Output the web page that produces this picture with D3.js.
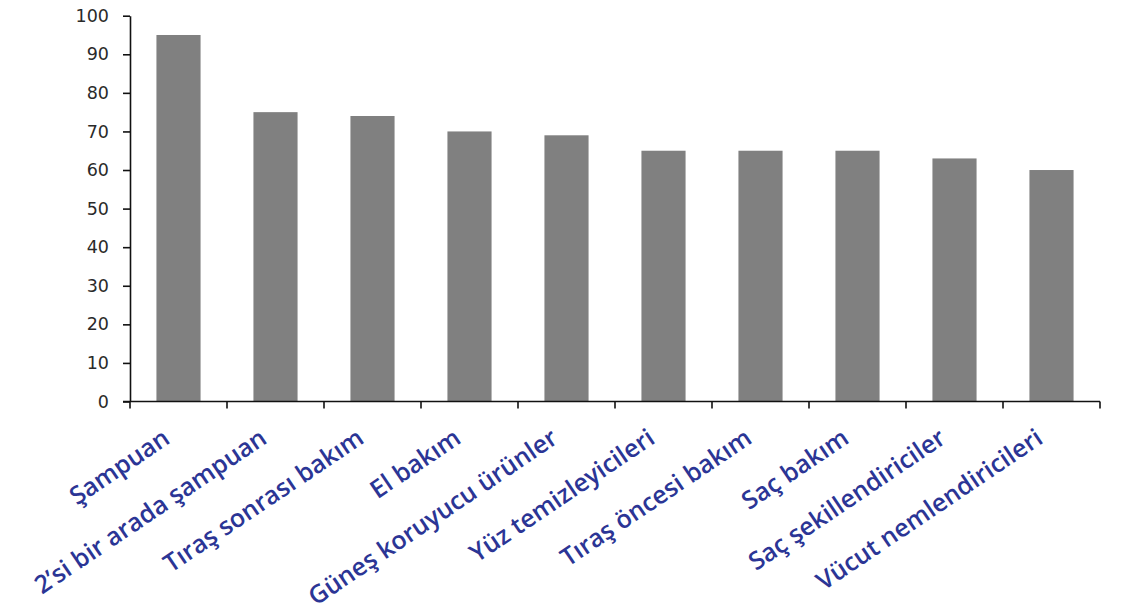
<!DOCTYPE html>
<html>
<head>
<meta charset="utf-8">
<script src="https://cdn.jsdelivr.net/npm/d3@7"></script>
<style>
  body { margin: 0; background: #fff; }
  svg { display: block; }
</style>
</head>
<body>
<svg id="chart" width="1132" height="615"></svg>
<script>
// Product categories and their scores
const categories = [
  "Şampuan", "2’si bir arada şampuan", "Tıraş sonrası bakım", "El bakım",
  "Güneş koruyucu ürünler", "Yüz temizleyicileri", "Tıraş öncesi bakım",
  "Saç bakım", "Saç şekillendiriciler", "Vücut nemlendiricileri"
];
const values = [95, 75, 74, 70, 69, 65, 65, 65, 63, 60];
const yTicks = [0, 10, 20, 30, 40, 50, 60, 70, 80, 90, 100];

const svg = d3.select("#chart");
const plotLeft = 130, plotRight = 1100, plotTop = 15.7, plotBottom = 401.5;

const x = d3.scaleBand().domain(categories).range([plotLeft, plotRight]).padding(0);
const y = d3.scaleLinear().domain([0, 100]).range([plotBottom, plotTop]);
const barFrac = 0.455;

// bars
svg.append("g").selectAll("rect")
  .data(categories)
  .join("rect")
  .attr("x", (d) => x(d) + x.bandwidth() * (1 - barFrac) / 2)
  .attr("width", x.bandwidth() * barFrac)
  .attr("y", (d, i) => y(values[i]))
  .attr("height", (d, i) => y(0) - y(values[i]))
  .attr("fill", "#808080");

// y axis
const yAxis = svg.append("g")
  .attr("transform", `translate(${plotLeft},0)`)
  .call(d3.axisLeft(y).tickValues(yTicks).tickSize(7).tickPadding(14).tickSizeOuter(0));
yAxis.select(".domain").attr("stroke", "#111").attr("stroke-width", 1.6);
yAxis.selectAll(".tick line").attr("stroke", "#111").attr("stroke-width", 1.6);
yAxis.selectAll(".tick text")
  .attr("font-family", "DejaVu Sans, Verdana, sans-serif")
  .attr("font-size", 17.5)
  .attr("fill", "#2a2a2a");

// x axis: ticks at category boundaries
const bounds = categories.map((c) => x(c)).concat([plotRight]);
const xg = svg.append("g");
xg.append("line")
  .attr("x1", plotLeft - 7).attr("x2", plotRight)
  .attr("y1", plotBottom).attr("y2", plotBottom)
  .attr("stroke", "#111").attr("stroke-width", 1.6);
xg.selectAll("line.tk")
  .data(bounds)
  .join("line")
  .attr("class", "tk")
  .attr("x1", (d) => d).attr("x2", (d) => d)
  .attr("y1", plotBottom).attr("y2", plotBottom + 7)
  .attr("stroke", "#111").attr("stroke-width", 1.6);

// rotated category labels
svg.append("g").selectAll("text")
  .data(categories)
  .join("text")
  .attr("transform", (d) => `translate(${x(d) + x.bandwidth() / 2 - 7},${442}) rotate(-34)`)
  .attr("text-anchor", "end")
  .attr("font-family", "'Open Sans', sans-serif")
  .attr("font-weight", 600)
  .attr("font-size", 25)
  .attr("fill", "#2b3595")
  .text((d) => d);
</script>
</body>
</html>
